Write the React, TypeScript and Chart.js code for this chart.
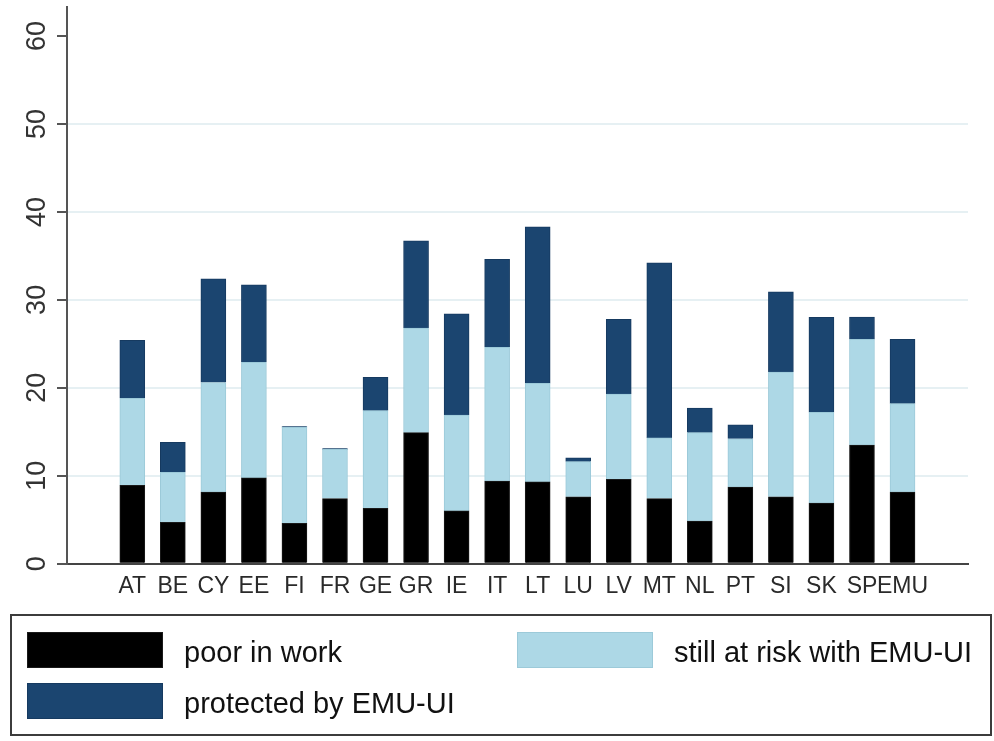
import React, { useEffect, useRef } from 'react';
import { Chart, registerables } from 'chart.js';
Chart.register(...registerables);

const FONT = '"Liberation Sans", Arial, Helvetica, sans-serif';

const categories = ['AT', 'BE', 'CY', 'EE', 'FI', 'FR', 'GE', 'GR', 'IE', 'IT', 'LT', 'LU', 'LV', 'MT', 'NL', 'PT', 'SI', 'SK', 'SP', 'EMU'];
const poorInWork = [8.9, 4.7, 8.15, 9.75, 4.6, 7.4, 6.3, 14.9, 6.0, 9.4, 9.3, 7.6, 9.6, 7.4, 4.85, 8.7, 7.6, 6.9, 13.5, 8.15];
const stillAtRisk = [9.9, 5.7, 12.45, 13.15, 10.9, 5.6, 11.1, 11.9, 10.9, 15.2, 11.2, 4.0, 9.7, 6.9, 10.05, 5.5, 14.2, 10.3, 12.0, 10.05];
const protectedByUI = [6.6, 3.4, 11.8, 8.8, 0.1, 0.1, 3.8, 9.9, 11.5, 10.0, 17.8, 0.45, 8.5, 19.9, 2.8, 1.6, 9.1, 10.8, 2.55, 7.3];
const seriesNames = ['poor in work', 'still at risk with EMU-UI', 'protected by EMU-UI'];
const yTicks = [0, 10, 20, 30, 40, 50, 60];

export default function App() {
  const ref = useRef<HTMLCanvasElement>(null);

  useEffect(() => {
    if (!ref.current) return;

    const yLabelPlugin = {
      id: 'yLabels',
      afterDraw(chart: any) {
        const s = chart.scales.y;
        const ctx = chart.ctx;
        ctx.save();
        ctx.font = `27px ${FONT}`;
        ctx.fillStyle = '#333';
        ctx.textAlign = 'center';
        ctx.textBaseline = 'alphabetic';
        yTicks.forEach((v) => {
          const py = s.getPixelForValue(v);
          ctx.save();
          ctx.translate(45, py);
          ctx.rotate(-Math.PI / 2);
          ctx.fillText(String(v), 0, 0);
          ctx.restore();
        });
        ctx.restore();
      },
    };

    const legendPlugin = {
      id: 'boxLegend',
      afterDraw(chart: any) {
        const ctx = chart.ctx;
        ctx.save();
        ctx.lineWidth = 2;
        ctx.strokeStyle = '#3c3c3c';
        ctx.strokeRect(11, 615, 980, 120);
        const items = [
          { ds: 0, x: 27, y: 632 },
          { ds: 1, x: 517, y: 632 },
          { ds: 2, x: 27, y: 683 },
        ];
        ctx.font = `29px ${FONT}`;
        ctx.textAlign = 'left';
        ctx.textBaseline = 'alphabetic';
        items.forEach((it) => {
          const d = chart.data.datasets[it.ds];
          ctx.fillStyle = d.backgroundColor;
          ctx.fillRect(it.x, it.y, 136, 36);
          ctx.lineWidth = 1;
          ctx.strokeStyle = d.borderColor;
          ctx.strokeRect(it.x + 0.5, it.y + 0.5, 135, 35);
          ctx.fillStyle = '#111';
          ctx.fillText(d.label, it.x + 157, it.y + 30);
        });
        ctx.restore();
      },
    };

    const toXY = (arr: number[]) => arr.map((v, i) => ({ x: i, y: v }));

    const chart = new Chart(ref.current, {
      type: 'bar',
      data: {
        datasets: [
          { label: seriesNames[0], data: toXY(poorInWork) as any, backgroundColor: '#000000', borderColor: '#1a1a1a', borderWidth: 1 },
          { label: seriesNames[1], data: toXY(stillAtRisk) as any, backgroundColor: '#add8e6', borderColor: '#9ccad9', borderWidth: 1 },
          { label: seriesNames[2], data: toXY(protectedByUI) as any, backgroundColor: '#1b4570', borderColor: '#163a60', borderWidth: 1 },
        ],
      },
      options: {
        responsive: false,
        animation: false,
        devicePixelRatio: 1,
        layout: { padding: { left: 0, right: 26, top: 7, bottom: 137.3 } },
        datasets: { bar: { barThickness: 25 } } as any,
        plugins: { legend: { display: false }, tooltip: { enabled: false }, title: { display: false } },
        scales: {
          x: {
            type: 'linear',
            stacked: true,
            min: -1.055,
            max: 20.06,
            afterBuildTicks: (s: any) => {
              s.ticks = categories.map((_, i) => ({ value: i }));
            },
            afterFit: (s: any) => {
              s.height = 40;
            },
            grid: { display: false, drawTicks: false },
            border: { display: true, color: '#444', width: 2 },
            ticks: {
              autoSkip: false,
              maxRotation: 0,
              minRotation: 0,
              padding: 9,
              color: '#2a2a2a',
              font: { family: FONT, size: 23 },
              callback: (v: any) => {
                const i = Number(v);
                return Number.isInteger(i) && categories[i] ? categories[i] : '';
              },
            },
          },
          y: {
            stacked: true,
            min: 0,
            max: 63.3,
            afterBuildTicks: (s: any) => {
              s.ticks = yTicks.map((v) => ({ value: v }));
            },
            afterFit: (s: any) => {
              s.width = 67;
            },
            grid: {
              color: (c: any) => (c.tick && (c.tick.value === 0 || c.tick.value === 60) ? 'rgba(0,0,0,0)' : '#e6f0f3'),
              lineWidth: 2,
              drawTicks: true,
              tickLength: 10,
              tickColor: '#555',
              tickWidth: 2,
            },
            border: { display: true, color: '#555', width: 2 },
            ticks: { display: false },
          },
        },
      },
      plugins: [yLabelPlugin, legendPlugin],
    });

    return () => chart.destroy();
  }, []);

  return (
    <div style={{ position: 'fixed', left: 0, top: 0, width: 994, height: 741, background: '#fff' }}>
      <canvas ref={ref} width={994} height={741} style={{ display: 'block' }} />
    </div>
  );
}
